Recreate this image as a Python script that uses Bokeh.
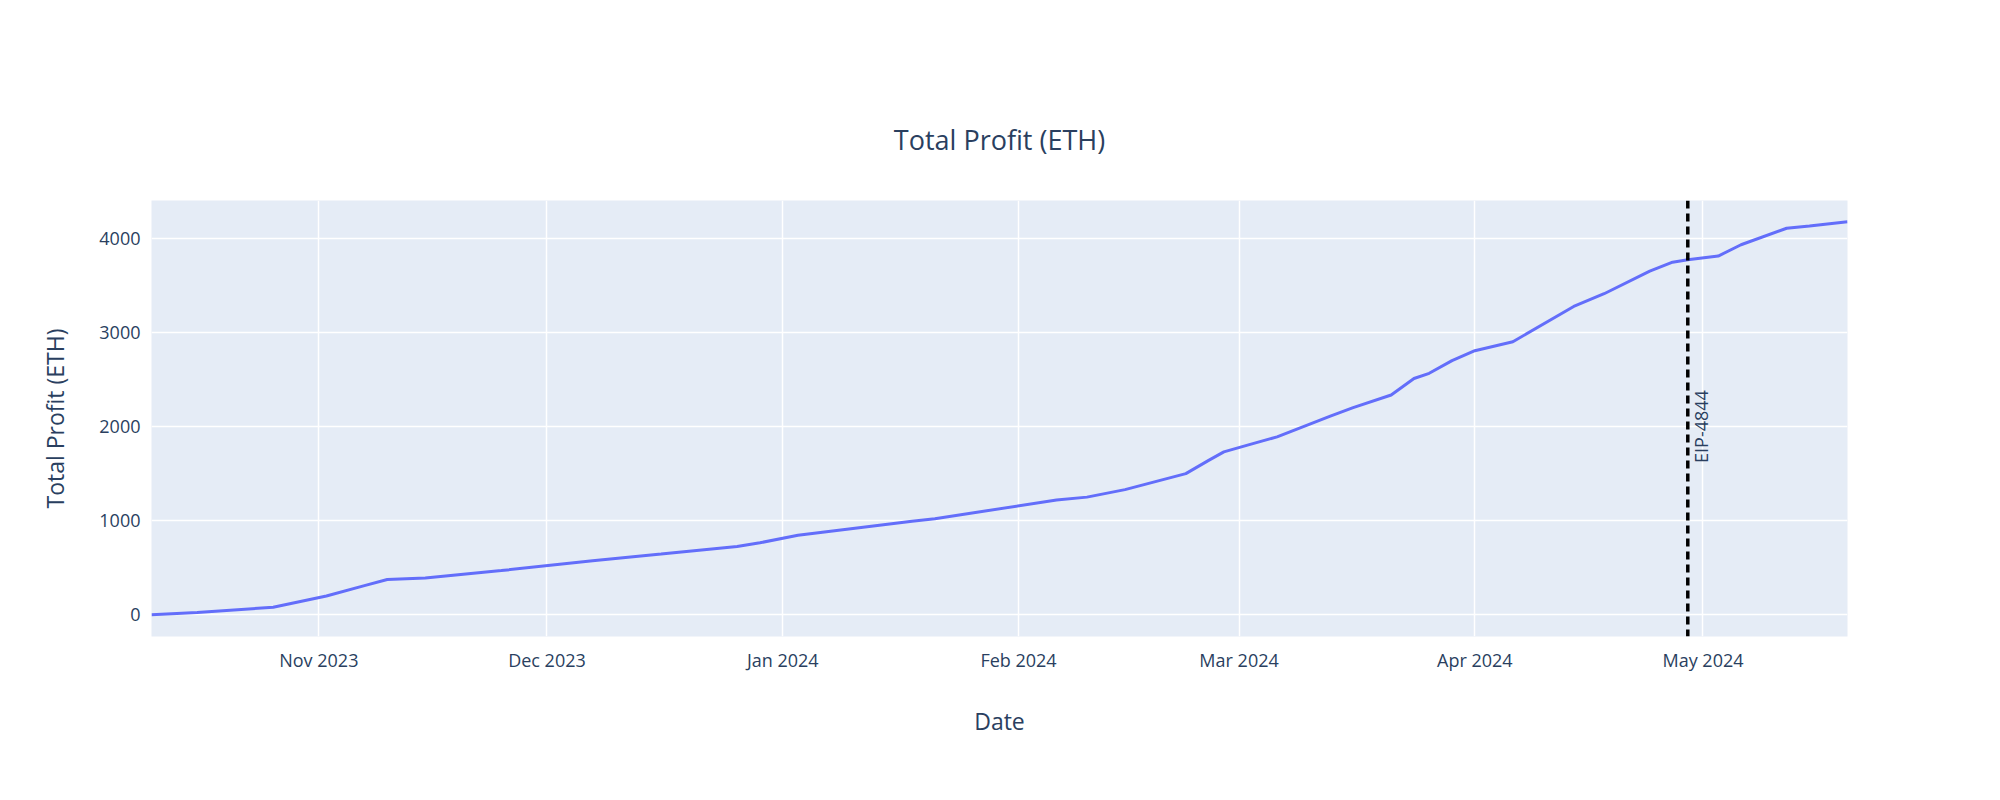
from datetime import datetime
from bokeh.plotting import figure
from bokeh.models import Span, FixedTicker, DatetimeTickFormatter, Label
from bokeh.embed import file_html
from bokeh.resources import INLINE

dates = ["2023-10-10", "2023-10-16", "2023-10-26", "2023-11-02", "2023-11-07", "2023-11-10",
         "2023-11-15", "2023-11-25", "2023-12-07", "2023-12-14", "2023-12-16", "2023-12-26",
         "2023-12-29", "2024-01-03", "2024-01-18", "2024-01-21", "2024-02-06", "2024-02-10",
         "2024-02-15", "2024-02-23", "2024-02-26", "2024-02-28", "2024-03-02", "2024-03-06",
         "2024-03-13", "2024-03-16", "2024-03-21", "2024-03-24", "2024-03-26", "2024-03-29",
         "2024-04-01", "2024-04-06", "2024-04-14", "2024-04-18", "2024-04-24", "2024-04-27",
         "2024-04-29", "2024-05-03", "2024-05-06", "2024-05-12", "2024-05-15", "2024-05-20"]
profit = [0, 25, 80, 200, 310, 375, 390, 470, 575, 630, 645, 725, 765, 845, 995, 1020,
          1220, 1250, 1330, 1500, 1640, 1730, 1800, 1890, 2110, 2200, 2335, 2510, 2565,
          2700, 2805, 2900, 3275, 3410, 3650, 3745, 3770, 3810, 3930, 4105, 4130, 4175]
month_ticks = ["2023-11-01", "2023-12-01", "2024-01-01", "2024-02-01", "2024-03-01",
               "2024-04-01", "2024-05-01"]
eip_date = "2024-04-29"

def d(s):
    return datetime.strptime(s, "%Y-%m-%d")

def ms(s):
    return (d(s) - datetime(1970, 1, 1)).total_seconds() * 1000

x = [d(s) for s in dates]
txt = "#2a3f5f"

p = figure(width=1984, height=784, x_axis_type="datetime", output_backend="svg",
           toolbar_location=None, title="Total Profit (ETH)",
           x_range=(d("2023-10-10"), d("2024-05-20")), y_range=(-230, 4400),
           x_axis_label="Date", y_axis_label="Total Profit (ETH)",
           min_border_left=151, min_border_right=137, min_border_top=200, min_border_bottom=148)
p.background_fill_color = "#E5ECF6"
p.outline_line_color = None
p.title.align = "center"
p.title.text_font_size = "27px"
p.title.text_font_style = "normal"
p.title.text_color = txt
p.title.text_font = "Open Sans"
p.title.offset = 0
p.title.standoff = 85

p.xaxis.ticker = FixedTicker(ticks=[ms(s) for s in month_ticks])
p.xaxis.formatter = DatetimeTickFormatter(months="%b %Y", days="%b %Y")
p.yaxis.ticker = FixedTicker(ticks=[0, 1000, 2000, 3000, 4000])
for ax in (p.xaxis, p.yaxis):
    ax.axis_line_color = None
    ax.major_tick_line_color = None
    ax.minor_tick_line_color = None
    ax.major_label_text_font_size = "18px"
    ax.major_label_text_color = txt
    ax.major_label_text_font = "Open Sans"
    ax.axis_label_text_font_size = "23px"
    ax.axis_label_text_font_style = "normal"
    ax.axis_label_text_color = txt
    ax.axis_label_text_font = "Open Sans"
p.xaxis.axis_label_standoff = 30
p.yaxis.axis_label_standoff = 25
p.grid.grid_line_color = "white"
p.grid.grid_line_width = 1.5

p.line(x, profit, line_color="#636EFA", line_width=3)

p.add_layout(Span(location=ms(eip_date), dimension="height", line_color="black",
                  line_width=3.5, line_dash="8 5"))
p.add_layout(Label(x=ms(eip_date), y=2000, text="EIP-4844", angle=1.5708,
                   x_offset=25, text_align="center", text_baseline="bottom",
                   text_font_size="18px", text_color=txt, text_font="Open Sans"))

open("out.html", "w").write(file_html(p, INLINE))
